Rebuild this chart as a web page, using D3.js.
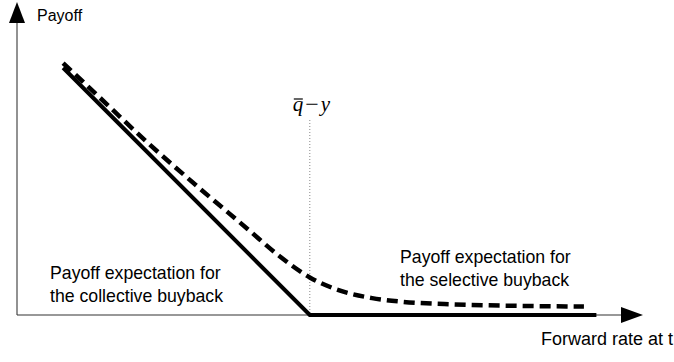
<!DOCTYPE html>
<html>
<head>
<meta charset="utf-8">
<script src="https://cdn.jsdelivr.net/npm/d3@7"></script>
<style>
  html, body { margin: 0; padding: 0; background: #fff; }
  svg { display: block; }
</style>
</head>
<body>
<svg id="chart" width="674" height="362"></svg>
<script>
// payoff lines (x: forward rate, y: payoff, 0..100)
var collectiveX = [7.4, 47, 93];
var collectiveY = [79, 0, 0];
var selectiveX = [7.4, 13, 21, 29, 37, 42, 47, 52, 57, 62, 70, 78, 91];
var selectiveY = [80.5, 70, 55, 41, 27.5, 19, 12, 7.7, 5.4, 4.2, 3.4, 3.0, 2.7];
var strikeX = [47];
var labels = ["Payoff", "Forward rate at t"];
var collectiveText = ["Payoff expectation for", "the collective buyback"];
var selectiveText = ["Payoff expectation for", "the selective buyback"];

(function () {
   "use strict";

   var svg = d3.select("#chart"),
      xScale = d3.scaleLinear().domain([0, 100]).range([17, 640]),
      yScale = d3.scaleLinear().domain([0, 100]).range([315, 2]),
      x0 = xScale(0),
      y0 = yScale(0),
      line = d3.line()
         .x(function (d) { return xScale(d[0]); })
         .y(function (d) { return yScale(d[1]); });

   //axes
   svg.append("line")
      .attr("x1", x0).attr("y1", y0)
      .attr("x2", x0).attr("y2", 20)
      .attr("stroke", "#777").attr("stroke-width", 1.6);
   svg.append("path")
      .attr("d", "M" + x0 + ",2L" + (x0 - 8) + ",23L" + (x0 + 8) + ",23Z")
      .attr("fill", "#000");
   svg.append("line")
      .attr("x1", x0).attr("y1", y0)
      .attr("x2", 624).attr("y2", y0)
      .attr("stroke", "#333").attr("stroke-width", 1.2);
   svg.append("path")
      .attr("d", "M643," + y0 + "L621," + (y0 - 8) + "L621," + (y0 + 8) + "Z")
      .attr("fill", "#000");

   //dotted strike line
   svg.selectAll(".strike").data(strikeX).enter().append("line")
      .attr("class", "strike")
      .attr("x1", function (d) { return xScale(d); })
      .attr("x2", function (d) { return xScale(d); })
      .attr("y1", 120).attr("y2", y0)
      .attr("stroke", "#888").attr("stroke-width", 1)
      .attr("stroke-dasharray", "1,2");

   //collective payoff (solid)
   svg.append("path")
      .datum(d3.zip(collectiveX, collectiveY))
      .attr("d", line)
      .attr("fill", "none")
      .attr("stroke", "#000")
      .attr("stroke-width", 4);

   //selective payoff expectation (dashed)
   svg.append("path")
      .datum(d3.zip(selectiveX, selectiveY))
      .attr("d", line.curve(d3.curveMonotoneX))
      .attr("fill", "none")
      .attr("stroke", "#000")
      .attr("stroke-width", 4.5)
      .attr("stroke-dasharray", "11,6");

   //axis labels
   svg.append("text")
      .attr("x", 37).attr("y", 21)
      .attr("font-family", "Liberation Sans, Arial, sans-serif")
      .attr("font-size", 16)
      .text(labels[0]);
   svg.append("text")
      .attr("x", 541).attr("y", 345)
      .attr("font-family", "Liberation Sans, Arial, sans-serif")
      .attr("font-size", 18)
      .text(labels[1]);

   //q bar - y
   var qx = xScale(strikeX[0]) - 17,
      q = svg.append("text")
         .attr("x", qx).attr("y", 111)
         .attr("font-family", "Liberation Serif, Times New Roman, serif")
         .attr("font-size", 21);
   q.append("tspan").attr("font-style", "italic").text("q");
   q.append("tspan").attr("dx", 2).attr("font-size", 24).attr("dy", 1).text("\u2212");
   q.append("tspan").attr("dx", 2).attr("dy", -1).attr("font-style", "italic").text("y");
   svg.append("line")
      .attr("x1", qx + 1).attr("x2", qx + 10)
      .attr("y1", 99).attr("y2", 99)
      .attr("stroke", "#000").attr("stroke-width", 1.2);

   //annotations
   function block(lines, x, y) {
      svg.append("text")
         .attr("font-family", "Liberation Sans, Arial, sans-serif")
         .attr("font-size", 17.7)
         .selectAll("tspan").data(lines).enter().append("tspan")
         .attr("x", x)
         .attr("y", function (d, i) { return y + i * 23; })
         .text(function (d) { return d; });
   }
   block(collectiveText, 50, 279);
   block(selectiveText, 400, 263);
}());
</script>
</body>
</html>
